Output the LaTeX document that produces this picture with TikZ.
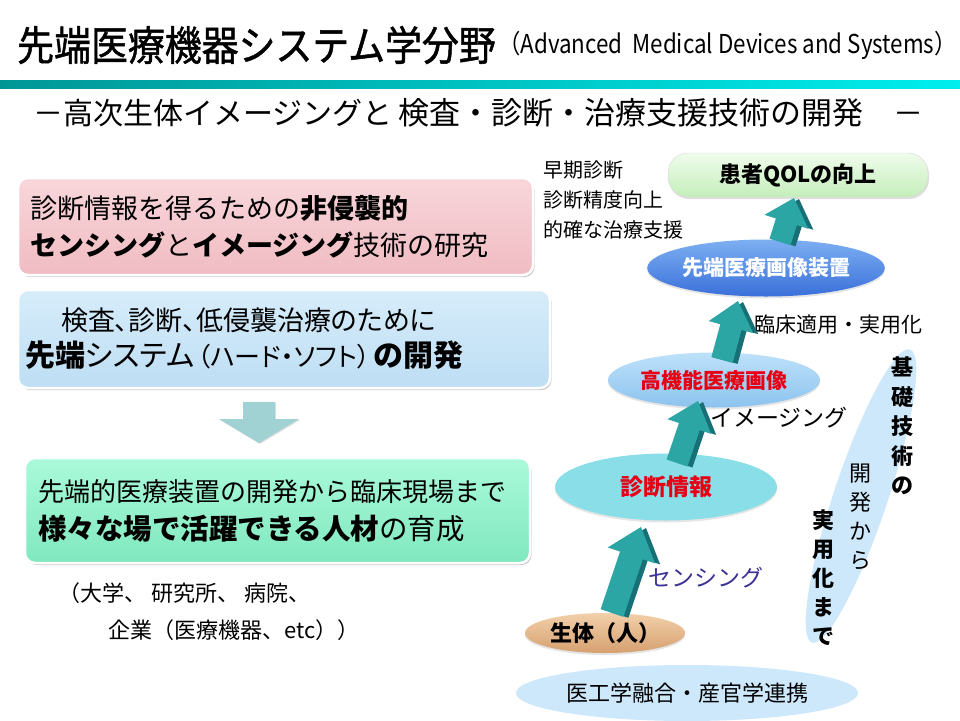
\documentclass[tikz,border=0pt]{standalone}
\usepackage{graphicx}
\usepackage{fontspec}
\setmainfont{Noto Sans CJK JP}
\newfontfamily\jpp[RawFeature=+palt]{Noto Sans CJK JP}
\newfontfamily\jpheavy[FakeBold=1.2]{Noto Sans CJK JP}
\usetikzlibrary{shapes.geometric,shadows,calc}
\definecolor{pinkT}{RGB}{248,214,218}
\definecolor{pinkB}{RGB}{240,188,195}
\definecolor{blueT}{RGB}{214,236,250}
\definecolor{blueB}{RGB}{190,222,244}
\definecolor{greenT}{RGB}{170,250,218}
\definecolor{greenB}{RGB}{128,232,190}
\definecolor{barL}{RGB}{0,150,150}
\definecolor{barR}{RGB}{0,238,238}
\definecolor{downA}{RGB}{160,210,212}
\definecolor{qolT}{RGB}{240,252,236}
\definecolor{qolB}{RGB}{196,238,186}
\definecolor{devT}{RGB}{125,175,242}
\definecolor{devB}{RGB}{58,112,218}
\definecolor{imgT}{RGB}{190,225,250}
\definecolor{imgB}{RGB}{140,195,238}
\definecolor{diagC}{RGB}{138,222,232}
\definecolor{bodyT}{RGB}{242,208,170}
\definecolor{bodyB}{RGB}{214,160,112}
\definecolor{paleB}{RGB}{204,232,250}
\definecolor{redT}{RGB}{230,0,20}
\definecolor{senC}{RGB}{60,50,150}
\definecolor{tealA}{RGB}{44,165,165}
\definecolor{tealD}{RGB}{22,112,118}
\newcommand\arrowpoly[6]{%
  \coordinate (hb) at ($(#2)!#6!(#1)$);
  \fill[#3] ($(#1)!#4!90:(#2)$) -- ($(hb)!#4!90:(#2)$) -- ($(hb)!#5!90:(#2)$) -- (#2)
     -- ($(hb)!#5!-90:(#2)$) -- ($(hb)!#4!-90:(#2)$) -- ($(#1)!#4!-90:(#2)$) -- cycle;
}
\tikzset{
  infobox/.style={rectangle, rounded corners=10pt, draw=white, line width=2.5pt,
    drop shadow={shadow xshift=1.5pt, shadow yshift=-2pt, opacity=0.35, fill=black!60},
    align=left, inner ysep=0pt},
  oval/.style={ellipse, inner sep=0pt, font=\bfseries\fontsize{21}{24}\selectfont,
    drop shadow={shadow xshift=0pt, shadow yshift=-2pt, opacity=0.2, fill=black!50}},
  vtext/.style={align=center, inner sep=0pt},
  plain/.style={inner sep=0pt, anchor=west},
}
\begin{document}
\begin{tikzpicture}[x=1pt,y=-1pt]
\useasboundingbox (0,0) rectangle (960,720);
\fill[white] (0,0) rectangle (960,720);
% title
\node[plain, font=\jpheavy\fontsize{41}{44}\selectfont] (title) at (17,45) {\scalebox{0.9}[1]{先端医療機器システム学分野}};
\node[plain, font=\fontsize{26}{28}\selectfont] (entitle) at ($(title.east)+(2,0)$) {\scalebox{0.86}[1]{（Advanced\ \ Medical Devices and Systems）}};
\shade[left color=barL, right color=barR] (0,80) rectangle (960,88);
\node[plain, font=\fontsize{30}{32}\selectfont] (sub) at (33,113) {－高次生体イメージングと\hspace{6pt}{\fontsize{31}{32}\selectfont 検査・診断・治療支援技術の開発}\hspace{30pt}－};
% left boxes
\node[infobox, top color=pinkT, bottom color=pinkB, minimum width=515pt, minimum height=97pt,
  text width=491pt, inner xsep=12pt, font=\fontsize{27}{37}\selectfont] (pink) at (275.5,226.5)
  {診断情報を得るための\textbf{非侵襲的}\\\textbf{センシング}と\textbf{イメージング}技術の研究};
\node[infobox, top color=blueT, bottom color=blueB, minimum width=532pt, minimum height=98pt,
  text width=518pt, inner xsep=7pt, font=\fontsize{27}{36}\selectfont] (blue) at (284,339)
  {\hspace*{36pt}{\jpp 検査、診断、低侵襲治療のために}\\{\jpp\fontsize{30}{36}\selectfont\textbf{先端}システム\hspace{3pt}{\fontsize{26}{36}\selectfont（ハード・ソフト）}\hspace{3pt}\textbf{の開発}}};
\coordinate (dtop) at (259,402);
\fill[downA, drop shadow={shadow xshift=1pt, shadow yshift=-1pt, opacity=0.25}]
  ($(dtop)+(-16,0)$) -- ($(dtop)+(16,0)$) -- ($(dtop)+(16,17)$) -- ($(dtop)+(40,17)$)
  -- ($(dtop)+(0,41)$) -- ($(dtop)+(-40,17)$) -- ($(dtop)+(-16,17)$) -- cycle;
\node[infobox, top color=greenT, bottom color=greenB, minimum width=505pt, minimum height=105pt,
  text width=479pt, inner xsep=13pt, font=\fontsize{26}{38}\selectfont] (green) at (277.5,510.5)
  {先端的医療装置の開発から臨床現場まで\\{\fontsize{28.5}{38}\selectfont\textbf{様々な場で活躍できる人材}の育成}};
\node[plain, align=left, font=\fontsize{22}{37}\selectfont] (orgs) at (58,611.5)
  {（大学、 研究所、 病院、\\\hspace*{50pt}企業（医療機器、etc））};
% right side
\node[plain, align=left, font=\fontsize{20}{30}\selectfont] (goals) at (543,200)
  {早期診断\\診断精度向上\\的確な治療支援};
\node[ellipse, rotate=71.5, minimum width=309pt, minimum height=54pt, fill=paleB] (band) at (861,496) {};
\node[vtext, font=\bfseries\fontsize{22}{29.5}\selectfont] (v1) at (902,426) {基\\礎\\技\\術\\の};
\node[vtext, font=\fontsize{22}{29}\selectfont] (v2) at (860,516.5) {開\\発\\か\\ら};
\node[vtext, font=\bfseries\fontsize{22}{29}\selectfont] (v3) at (823,577.5) {実\\用\\化\\ま\\で};
\node[rectangle, rounded corners=20pt, minimum width=260pt, minimum height=44pt, top color=qolT,
  bottom color=qolB, draw=black!15, font=\bfseries\fontsize{22}{24}\selectfont,
  drop shadow={shadow xshift=1pt, shadow yshift=-2pt, opacity=0.25, fill=black!50}] (qol) at (798,175) {患者QOLの向上};
\node[oval, top color=devT, bottom color=devB, minimum width=213pt, minimum height=57pt, text=white] (dev) at (766,268) {先端医療画像装置};
\node[oval, top color=imgT, bottom color=imgB, minimum width=212pt, minimum height=55pt, text=redT] (img) at (714,380) {高機能医療画像};
\node[oval, fill=diagC, minimum width=222pt, minimum height=67pt, text=redT, font=\bfseries\fontsize{23}{25}\selectfont] (diag) at (666,487) {診断情報};
\node[oval, top color=bodyT, bottom color=bodyB, minimum width=160pt, minimum height=40pt, font=\bfseries\fontsize{22}{24}\selectfont] (body) at (605,633) {生体（人）};
\node[ellipse, inner sep=0pt, fill=paleB, minimum width=320pt, minimum height=56pt, font=\fontsize{22}{24}\selectfont] (collab) at (687,693) {医工学融合・産官学連携};
\node[plain, font=\fontsize{21}{24}\selectfont] (clin) at (754,325) {臨床適用・実用化};
\node[plain, font=\fontsize{23}{25}\selectfont] (imlab) at (710,418) {イメージング};
\node[plain, font=\fontsize{23}{25}\selectfont, text=senC] (senlab) at (648,578) {センシング};
% arrows
\coordinate (t1) at (612,613); \coordinate (p1) at (641,527);
\coordinate (t1s) at (617,614); \coordinate (p1s) at (646,528);
\arrowpoly{t1s}{p1s}{tealD}{12pt}{25pt}{30pt}
\arrowpoly{t1}{p1}{tealA}{12pt}{25pt}{30pt}
\coordinate (t2) at (677,463); \coordinate (p2) at (698,401);
\coordinate (t2s) at (682,464); \coordinate (p2s) at (703,402);
\arrowpoly{t2s}{p2s}{tealD}{11pt}{23pt}{27pt}
\arrowpoly{t2}{p2}{tealA}{11pt}{23pt}{27pt}
\coordinate (t3) at (722,360); \coordinate (p3) at (738,301);
\coordinate (t3s) at (727,361); \coordinate (p3s) at (743,302);
\arrowpoly{t3s}{p3s}{tealD}{11pt}{23pt}{27pt}
\arrowpoly{t3}{p3}{tealA}{11pt}{23pt}{27pt}
\coordinate (t4) at (780,242); \coordinate (p4) at (794,198);
\coordinate (t4s) at (785,243); \coordinate (p4s) at (799,199);
\arrowpoly{t4s}{p4s}{tealD}{11pt}{23pt}{25pt}
\arrowpoly{t4}{p4}{tealA}{11pt}{23pt}{25pt}
\end{tikzpicture}
\end{document}
